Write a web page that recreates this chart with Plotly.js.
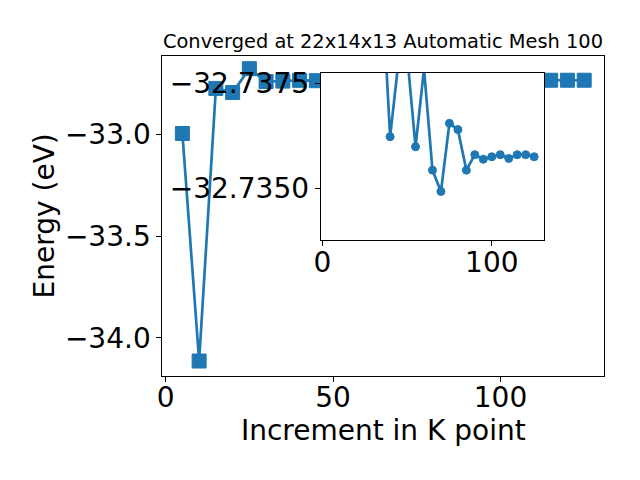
<!DOCTYPE html>
<html><head><meta charset="utf-8">
<script src="https://cdn.plot.ly/plotly-3.0.1.min.js"></script>
<style>html,body{margin:0;padding:0;background:#fff}</style>
</head><body>
<div id="chart" style="width:640px;height:480px"></div>
<script>
// K-point increments and total energies (eV)
const kPoints = [5,10,15,20,25,30,35,40,45,50,55,60,65,70,75,80,85,90,95,100,105,110,115,120,125];
const energy = [-32.997,-34.113,-32.776,-32.796,-32.679,-32.742,-32.7400,-32.73623,-32.73805,-32.73821,
                -32.73599,-32.73785,-32.73543,-32.73492,-32.73655,-32.73640,-32.73543,-32.73580,-32.73569,
                -32.73575,-32.73580,-32.73571,-32.73580,-32.73580,-32.73575];
// the inset shows the converging tail of the same series
const insetStartIndex = 6;
const insetK = kPoints.slice(insetStartIndex);
const insetE = energy.slice(insetStartIndex);

const mainTicksX = [0,50,100];
const mainTicksY = [-34.0,-33.5,-33.0];
const insetTicksX = [0,100];
const insetTicksY = [-32.7375,-32.7350];

const blue = '#1f77b4';
const FONT = 'DejaVu Sans, sans-serif';

const traces = [
  {x:kPoints, y:energy, xaxis:'x', yaxis:'y', type:'scatter', mode:'lines+markers',
   line:{color:blue, width:2.7},
   marker:{symbol:'square', size:14, color:blue, line:{color:blue, width:1}}},
  {x:insetK, y:insetE, xaxis:'x2', yaxis:'y2', type:'scatter', mode:'lines+markers',
   line:{color:blue, width:2.7},
   marker:{symbol:'circle', size:8, color:blue, line:{color:blue, width:1}}}
];

const axCommon = {showline:true, mirror:true, linecolor:'black', linewidth:1,
  ticks:'outside', ticklen:5, tickwidth:1, tickcolor:'black',
  showgrid:false, zeroline:false, tickfont:{family:FONT, size:28, color:'black'}};

const layout = {
  width:640, height:480,
  margin:{l:0,r:0,t:0,b:0},
  paper_bgcolor:'white', plot_bgcolor:'white',
  showlegend:false,
  font:{family:FONT, color:'black'},
  title:{text:'Converged at 22x14x13 Automatic Mesh 100', font:{family:FONT, size:19.4, color:'black'},
         x:0.5984, xanchor:'center', y:0.9146, yanchor:'middle'},
  xaxis:Object.assign({}, axCommon, {domain:[0.2536,0.9442], anchor:'y', range:[-1,131],
         tickmode:'array', tickvals:mainTicksX, ticklabelstandoff:-8,
         title:{text:'Increment in K point', standoff:5, font:{family:FONT, size:28, color:'black'}}}),
  yaxis:Object.assign({}, axCommon, {domain:[0.2173,0.8833], anchor:'x', range:[-34.185,-32.617],
         tickmode:'array', tickvals:mainTicksY, tickformat:'.1f',
         title:{text:'Energy (eV)', standoff:2, font:{family:FONT, size:28, color:'black'}}}),
  xaxis2:Object.assign({}, axCommon, {domain:[0.501,0.8505], anchor:'y2', range:[-1,131],
         tickmode:'array', tickvals:insetTicksX, ticklabelstandoff:-8}),
  yaxis2:Object.assign({}, axCommon, {domain:[0.5,0.8485], anchor:'x2', range:[-32.73376,-32.73776],
         tickmode:'array', tickvals:insetTicksY, tickformat:'.4f'})
};

Plotly.newPlot('chart', traces, layout, {staticPlot:true, displayModeBar:false});
</script>
</body></html>
